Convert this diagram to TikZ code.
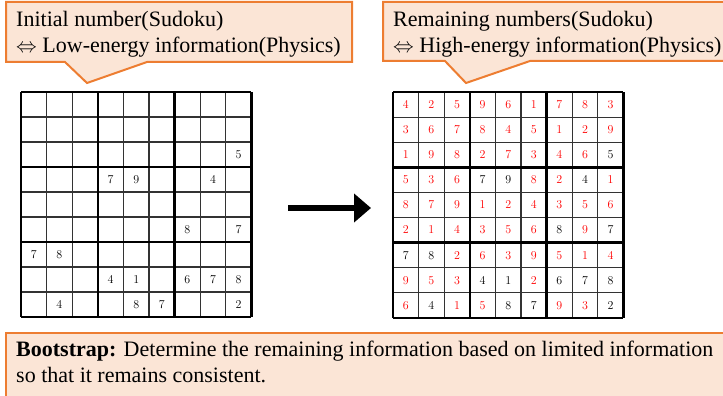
\documentclass[tikz,border=0pt]{standalone}
\usepackage{fontspec}
\setmainfont{Liberation Serif}
\usetikzlibrary{arrows.meta}
\definecolor{calloutline}{HTML}{ED7D31}
\definecolor{calloutfill}{HTML}{FBE5D6}

\tikzset{
    callout/.style={draw=calloutline, line width=2pt, fill=calloutfill, line join=miter},
    calltext/.style={inner sep=0pt, align=left, font=\fontsize{22}{26}\selectfont},
    thingrid/.style={line width=1.2pt, black!80},
    boxgrid/.style={line width=2.6pt, black},
    given/.style={inner sep=0pt, font=\fontsize{12}{14}\selectfont, black},
    found/.style={given, red},
    bigarrow/.style={line width=6pt, -{Triangle[length=17pt, width=28pt]}}
}

\begin{document}
\begin{tikzpicture}[x=1pt, y=-1pt]
    \useasboundingbox (0,0) rectangle (723,396);

    % callouts on top (base = baseline of the last line)
    \draw[callout] (6,2) -- (352,2) -- (352,62) -- (147,62) -- (87,83) -- (65,62) -- (6,62) -- cycle;
    \node[calltext, anchor=base west] (initial) at (16,53)
        {Initial number(Sudoku)\\$\Leftrightarrow$ Low-energy information(Physics)};

    \draw[callout] (383,2) -- (740,2) -- (740,61) -- (530,61) -- (466,83) -- (445,61) -- (383,61) -- cycle;
    \node[calltext, anchor=base west] (remaining) at (393,53)
        {Remaining numbers(Sudoku)\\$\Leftrightarrow$ High-energy information(Physics)};

    % left sudoku: only the given numbers
    \begin{scope}[shift={(21,92)}, x=25.6pt, y=-25pt]
        \foreach \k in {1,2,4,5,7,8}{
            \draw[thingrid] (\k,0) -- (\k,9);
            \draw[thingrid] (0,\k) -- (9,\k);
        }
        \foreach \k in {0,3,6,9}{
            \draw[boxgrid] (\k,0) -- (\k,9);
            \draw[boxgrid] (0,\k) -- (9,\k);
        }
        \foreach \row [count=\r] in {
            {0,0,0,0,0,0,0,0,0},
            {0,0,0,0,0,0,0,0,0},
            {0,0,0,0,0,0,0,0,5},
            {0,0,0,7,9,0,0,4,0},
            {0,0,0,0,0,0,0,0,0},
            {0,0,0,0,0,0,8,0,7},
            {7,8,0,0,0,0,0,0,0},
            {0,0,0,4,1,0,6,7,8},
            {0,4,0,0,8,7,0,0,2}}{
            \foreach \v [count=\c] in \row{
                \ifnum\v>0
                    \node[given] (g-\r-\c) at (\c-0.5,\r-0.5) {$\v$};
                \fi
            }
        }
    \end{scope}

    \coordinate (arrowtail) at (288,208);
    \coordinate (arrowtip) at (371,208);
    \draw[bigarrow] (arrowtail) -- (arrowtip);

    % right sudoku: given numbers in black, found numbers in red
    \begin{scope}[shift={(393,92)}, x=25.6pt, y=-25.1pt]
        \foreach \k in {1,2,4,5,7,8}{
            \draw[thingrid] (\k,0) -- (\k,9);
            \draw[thingrid] (0,\k) -- (9,\k);
        }
        \foreach \k in {0,3,6,9}{
            \draw[boxgrid] (\k,0) -- (\k,9);
            \draw[boxgrid] (0,\k) -- (9,\k);
        }
        \foreach \row [count=\r] in {
            {0,0,0,0,0,0,0,0,0},
            {0,0,0,0,0,0,0,0,0},
            {0,0,0,0,0,0,0,0,5},
            {0,0,0,7,9,0,0,4,0},
            {0,0,0,0,0,0,0,0,0},
            {0,0,0,0,0,0,8,0,7},
            {7,8,0,0,0,0,0,0,0},
            {0,0,0,4,1,0,6,7,8},
            {0,4,0,0,8,7,0,0,2}}{
            \foreach \v [count=\c] in \row{
                \ifnum\v>0
                    \node[given] (s-\r-\c) at (\c-0.5,\r-0.5) {$\v$};
                \fi
            }
        }
        \foreach \row [count=\r] in {
            {4,2,5,9,6,1,7,8,3},
            {3,6,7,8,4,5,1,2,9},
            {1,9,8,2,7,3,4,6,0},
            {5,3,6,0,0,8,2,0,1},
            {8,7,9,1,2,4,3,5,6},
            {2,1,4,3,5,6,0,9,0},
            {0,0,2,6,3,9,5,1,4},
            {9,5,3,0,0,2,0,0,0},
            {6,0,1,5,0,0,9,3,0}}{
            \foreach \v [count=\c] in \row{
                \ifnum\v>0
                    \node[found] (s-\r-\c) at (\c-0.5,\r-0.5) {$\v$};
                \fi
            }
        }
    \end{scope}

    % bootstrap note
    \draw[callout] (6,333) rectangle (740,410);
    \node[calltext, anchor=base west] (bootstrap) at (16,382)
        {\textbf{Bootstrap:} Determine the remaining information based on limited information\\so that it remains consistent.};
\end{tikzpicture}
\end{document}
